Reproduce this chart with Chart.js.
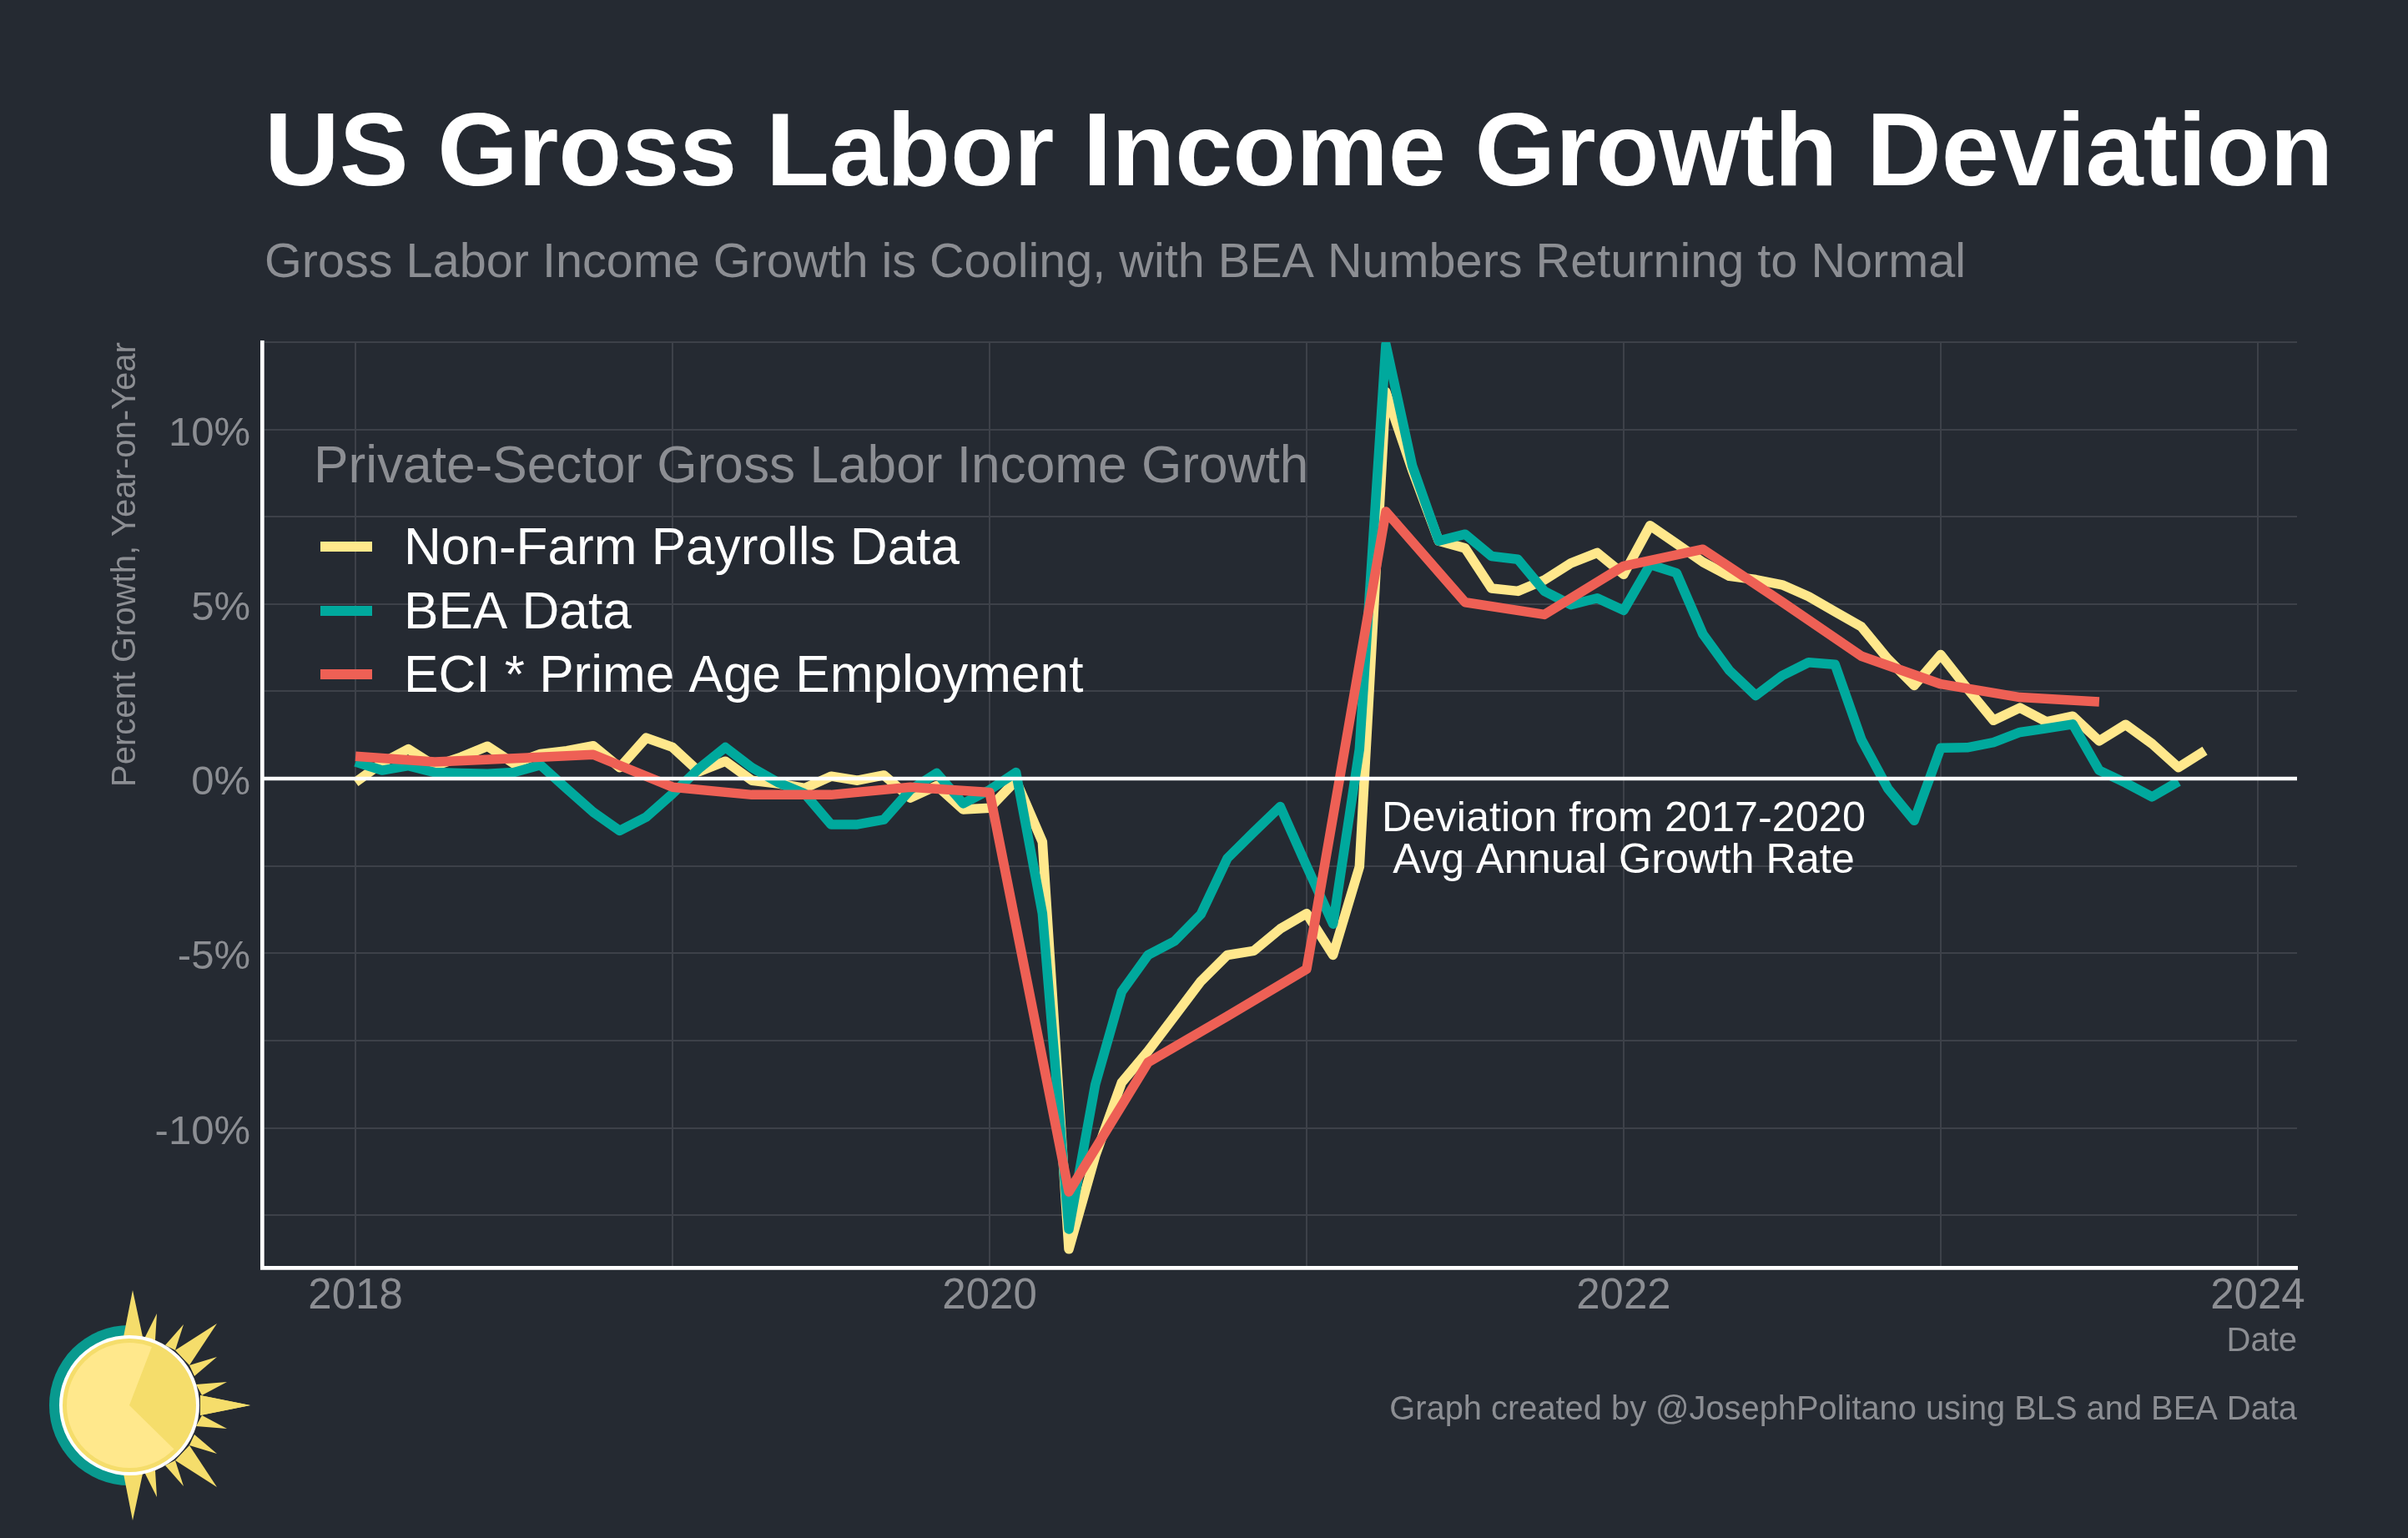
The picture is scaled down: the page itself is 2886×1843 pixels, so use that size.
<!DOCTYPE html>
<html>
<head>
<meta charset="utf-8">
<title>US Gross Labor Income Growth Deviation</title>
<script src="https://cdn.jsdelivr.net/npm/chart.js@4"></script>
<style>
    html, body { margin: 0; padding: 0; background: #252a32; }
    canvas { display: block; }
</style>
</head>
<body>
<canvas id="laborChart" width="2886" height="1843"></canvas>
<script>
(function () {
    "use strict";

    const months = [
        '2018-01', '2018-02', '2018-03', '2018-04', '2018-05', '2018-06', '2018-07', '2018-08', '2018-09', '2018-10', '2018-11', '2018-12',
        '2019-01', '2019-02', '2019-03', '2019-04', '2019-05', '2019-06', '2019-07', '2019-08', '2019-09', '2019-10', '2019-11', '2019-12',
        '2020-01', '2020-02', '2020-03', '2020-04', '2020-05', '2020-06', '2020-07', '2020-08', '2020-09', '2020-10', '2020-11', '2020-12',
        '2021-01', '2021-02', '2021-03', '2021-04', '2021-05', '2021-06', '2021-07', '2021-08', '2021-09', '2021-10', '2021-11', '2021-12',
        '2022-01', '2022-02', '2022-03', '2022-04', '2022-05', '2022-06', '2022-07', '2022-08', '2022-09', '2022-10', '2022-11', '2022-12',
        '2023-01', '2023-02', '2023-03', '2023-04', '2023-05', '2023-06', '2023-07', '2023-08', '2023-09', '2023-10', '2023-11'
    ];
    const quarters = [
        '2018-01', '2018-04', '2018-07', '2018-10', '2019-01', '2019-04', '2019-07', '2019-10',
        '2020-01', '2020-04', '2020-07', '2020-10', '2021-01', '2021-04', '2021-07', '2021-10',
        '2022-01', '2022-04', '2022-07', '2022-10', '2023-01', '2023-04', '2023-07'
    ];

    const payrolls = [
        -0.10, 0.45, 0.85, 0.37, 0.62, 0.93, 0.43, 0.71, 0.80, 0.94, 0.32, 1.17,
        0.90, 0.20, 0.50, -0.05, -0.14, -0.27, 0.07, -0.05, 0.10, -0.55, -0.20, -0.88,
        -0.84, -0.05, -1.81, -13.47, -10.80, -8.70, -7.80, -6.80, -5.80, -5.05, -4.93, -4.30,
        -3.86, -5.05, -2.52, 11.07, 8.84, 6.81, 6.60, 5.45, 5.37, 5.69, 6.17, 6.47,
        5.85, 7.25, 6.73, 6.20, 5.80, 5.70, 5.55, 5.22, 4.78, 4.35, 3.43, 2.67,
        3.55, 2.59, 1.67, 2.03, 1.63, 1.79, 1.08, 1.55, 1.00, 0.32, 0.80
    ];
    const bea = [
        0.48, 0.24, 0.37, 0.18, 0.16, 0.14, 0.18, 0.39, -0.29, -0.96, -1.49, -1.10,
        -0.43, 0.29, 0.90, 0.32, -0.11, -0.43, -1.31, -1.31, -1.17, -0.32, 0.16, -0.71,
        -0.32, 0.18, -3.86, -12.90, -8.76, -6.10, -5.05, -4.65, -3.88, -2.28, -1.53, -0.80,
        -2.50, -4.16, 0.85, 12.43, 8.96, 6.81, 7.00, 6.37, 6.28, 5.37, 4.98, 5.17,
        4.82, 6.13, 5.89, 4.14, 3.10, 2.38, 2.95, 3.33, 3.27, 1.12, -0.28, -1.20,
        0.88, 0.89, 1.04, 1.33, 1.44, 1.56, 0.24, -0.12, -0.52, -0.08
    ];
    const eci = [
        0.64, 0.48, 0.58, 0.69, -0.24, -0.46, -0.46, -0.24,
        -0.39, -11.83, -8.12, -6.80, -5.45, 7.65, 5.05, 4.70,
        6.09, 6.57, 5.06, 3.51, 2.71, 2.33, 2.20
    ];

    const yTicks = [-10, -5, 0, 5, 10];
    const xTicks = [2018, 2020, 2022, 2024];

    const gridColor = '#3d4149';
    const mutedColor = '#8c8e93';
    const yellow = '#ffe88c';
    const teal = '#00a99d';
    const red = '#ee6055';
    const fontFamily = '"Liberation Sans", Arial, sans-serif';
    const xMin = 2017.705;
    const xMax = 2024.124;

    function toYear(label) {
        const parts = label.split('-');
        return Number(parts[0]) + (Number(parts[1]) - 1) / 12;
    }

    function toPoints(labels, values) {
        return values.map((v, i) => ({ x: toYear(labels[i]), y: v }));
    }

    function lineSet(label, data, color, order) {
        return {
            label: label,
            data: data,
            borderColor: color,
            backgroundColor: color,
            borderWidth: 11.5,
            borderJoinStyle: 'round',
            borderCapStyle: 'butt',
            pointRadius: 0,
            tension: 0,
            order: order
        };
    }

    function drawText(ctx, text, x, y, size, color, align, weight) {
        ctx.font = (weight || 'normal') + ' ' + size + 'px ' + fontFamily;
        ctx.fillStyle = color;
        ctx.textAlign = align || 'left';
        ctx.textBaseline = 'alphabetic';
        ctx.fillText(text, x, y);
    }

    function drawSun(ctx) {
        const cx = 155, cy = 1684;
        // ray tips and bases for the upper half, mirrored for the lower one
        const rays = [
            [[-7, -82], [4, -138], [16, -82]],
            [[18, -80], [33, -110], [31, -78]],
            [[43, -72], [65, -97], [55, -66]],
            [[55, -66], [105, -98], [72, -48]],
            [[72, -48], [105, -58], [78, -35]],
            [[80, -25], [117, -28], [87, -12]],
            [[85, -12], [145, 0], [85, 12]]
        ];
        ctx.save();
        ctx.fillStyle = '#099a8f';
        ctx.beginPath();
        ctx.arc(cx, cy, 96, Math.PI / 2, Math.PI * 1.5);
        ctx.fill();
        ctx.fillStyle = '#f5dd6b';
        rays.forEach(function (r) {
            [1, -1].forEach(function (flip) {
                ctx.beginPath();
                r.forEach(function (p, i) {
                    if (i === 0) ctx.moveTo(cx + p[0], cy + flip * p[1]);
                    else ctx.lineTo(cx + p[0], cy + flip * p[1]);
                });
                ctx.fill();
            });
        });
        ctx.fillStyle = '#ffffff';
        ctx.beginPath();
        ctx.arc(cx, cy, 84, 0, Math.PI * 2);
        ctx.fill();
        ctx.fillStyle = '#f5dd6b';
        ctx.beginPath();
        ctx.arc(cx, cy, 80, 0, Math.PI * 2);
        ctx.fill();
        ctx.fillStyle = yellow;
        ctx.beginPath();
        ctx.moveTo(cx, cy);
        ctx.arc(cx, cy, 75, Math.atan2(157, 160), Math.atan2(-208, 80));
        ctx.closePath();
        ctx.fill();
        ctx.restore();
    }

    const labelsPlugin = {
        id: 'labelsPlugin',
        afterDraw: function (chart) {
            const ctx = chart.ctx;
            ctx.save();
            drawText(ctx, 'US Gross Labor Income Growth Deviation', 317, 222, 124.3, '#ffffff', 'left', 'bold');
            drawText(ctx, 'Gross Labor Income Growth is Cooling, with BEA Numbers Returning to Normal', 317, 332, 57.6, mutedColor);

            drawText(ctx, 'Private-Sector Gross Labor Income Growth', 376, 578, 62.2, mutedColor);
            const legendItems = [
                ['Non-Farm Payrolls Data', yellow, 676],
                ['BEA Data', teal, 753],
                ['ECI * Prime Age Employment', red, 829]
            ];
            legendItems.forEach(function (item) {
                ctx.fillStyle = item[1];
                ctx.fillRect(384, item[2] - 27, 62, 12);
                drawText(ctx, item[0], 484, item[2], 62.1, '#ffffff');
            });

            drawText(ctx, 'Deviation from 2017-2020', 1946, 996, 50.4, '#ffffff', 'center');
            drawText(ctx, 'Avg Annual Growth Rate', 1946, 1046, 50.4, '#ffffff', 'center');

            drawText(ctx, 'Date', 2753, 1619, 40, mutedColor, 'right');
            drawText(ctx, 'Graph created by @JosephPolitano using BLS and BEA Data', 2753, 1701, 39.85, mutedColor, 'right');

            ctx.translate(162, 943);
            ctx.rotate(-Math.PI / 2);
            drawText(ctx, 'Percent Growth, Year-on-Year', 0, 0, 40, mutedColor);
            ctx.restore();

            drawSun(ctx);
        }
    };

    new Chart(document.getElementById('laborChart').getContext('2d'), {
        type: 'line',
        data: {
            datasets: [
                lineSet('Non-Farm Payrolls Data', toPoints(months, payrolls), yellow, 4),
                lineSet('BEA Data', toPoints(months, bea), teal, 3),
                lineSet('ECI * Prime Age Employment', toPoints(quarters, eci), red, 2),
                {
                    label: 'zero',
                    data: [{ x: xMin, y: 0 }, { x: xMax, y: 0 }],
                    borderColor: '#ffffff',
                    borderWidth: 4.5,
                    pointRadius: 0,
                    order: 1
                }
            ]
        },
        options: {
            responsive: false,
            animation: false,
            devicePixelRatio: 1,
            layout: { padding: { left: 0, top: 410, right: 133, bottom: 224 } },
            plugins: {
                legend: { display: false },
                title: { display: false },
                tooltip: { enabled: false }
            },
            scales: {
                x: {
                    type: 'linear',
                    min: xMin,
                    max: xMax,
                    afterFit: function (scale) { scale.height = 100; },
                    border: { color: '#ffffff', width: 4.7 },
                    grid: { color: gridColor, lineWidth: 2, drawTicks: false },
                    ticks: {
                        stepSize: 1,
                        includeBounds: false,
                        autoSkip: false,
                        maxRotation: 0,
                        padding: 4,
                        color: mutedColor,
                        font: { family: fontFamily, size: 51 },
                        callback: function (v) { return xTicks.includes(v) ? String(v) : ''; }
                    }
                },
                y: {
                    min: -14,
                    max: 12.5,
                    afterFit: function (scale) { scale.width = 314; },
                    border: { color: '#ffffff', width: 4.7 },
                    grid: { color: gridColor, lineWidth: 2, drawTicks: false },
                    ticks: {
                        stepSize: 2.5,
                        includeBounds: false,
                        autoSkip: false,
                        padding: 14,
                        color: mutedColor,
                        // blank first line plus a small line height nudges the label down
                        font: { family: fontFamily, size: 49, lineHeight: '11px' },
                        callback: function (v) { return yTicks.includes(v) ? ['', v + '%'] : ''; }
                    }
                }
            }
        },
        plugins: [labelsPlugin]
    });
})();
</script>
</body>
</html>
